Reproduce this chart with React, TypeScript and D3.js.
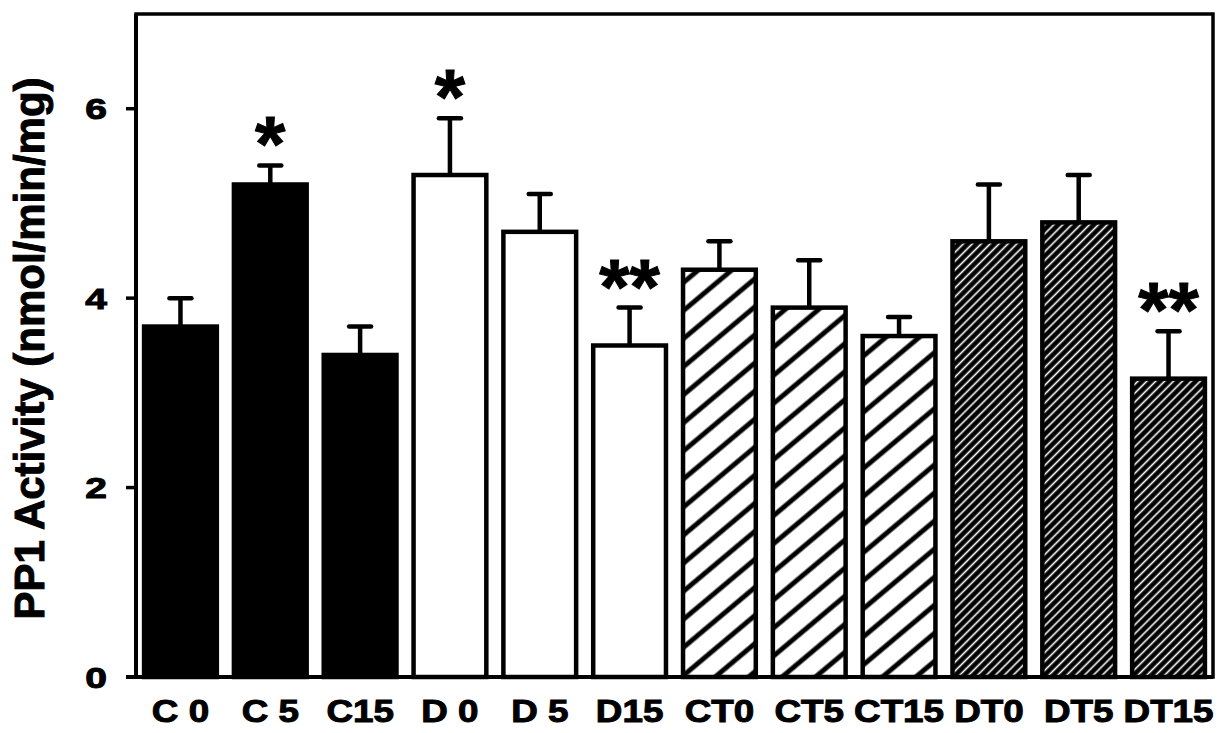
import React from "react";
import * as d3 from "d3";

const categories = ["C 0", "C 5", "C15", "D 0", "D 5", "D15", "CT0", "CT5", "CT15", "DT0", "DT5", "DT15"];
const groups = ["C", "C", "C", "D", "D", "D", "CT", "CT", "CT", "DT", "DT", "DT"];
const means = [3.7, 5.2, 3.4, 5.3, 4.7, 3.5, 4.3, 3.9, 3.6, 4.6, 4.8, 3.15];
const errors = [0.3, 0.2, 0.3, 0.6, 0.4, 0.4, 0.3, 0.5, 0.2, 0.6, 0.5, 0.5];
const significance = ["", "*", "", "*", "", "**", "", "", "", "", "", "**"];
const yTicks = [0, 2, 4, 6];
const yTitle = "PP1 Activity (nmol/min/mg)";

const W = 1222;
const H = 733;
const left = 136;
const right = 1213;
const top = 14;
const bottom = 677;
const FONT = "'Liberation Sans', Arial, Helvetica, sans-serif";

export default function App() {
  const x = d3.scaleBand<string>().domain(categories).range([left, right]).paddingInner(0.19).paddingOuter(0.09);
  const y = d3.scaleLinear().domain([0, 7]).range([bottom, top]);
  const bw = x.bandwidth();

  const fillFor = (g: string) =>
    g === "C" ? "#000" : g === "D" ? "#fff" : g === "CT" ? "url(#hatchWide)" : "url(#hatchDense)";

  const astSize = 78;

  return (
    <svg
      width={W}
      height={H}
      viewBox={`0 0 ${W} ${H}`}
      style={{ position: "absolute", left: 0, top: 0, background: "#fff" }}
      fontFamily={FONT}
    >
      <defs>
        <pattern id="hatchWide" patternUnits="userSpaceOnUse" width={40} height={21.5} patternTransform="rotate(-40)">
          <rect width={40} height={21.5} fill="#fff" />
          <line x1={0} x2={40} y1={10.75} y2={10.75} stroke="#000" strokeWidth={5} />
        </pattern>
        <pattern id="hatchDense" patternUnits="userSpaceOnUse" width={20} height={6.3} patternTransform="rotate(-45)">
          <rect width={20} height={6.3} fill="#000" />
          <line x1={0} x2={20} y1={3.15} y2={3.15} stroke="#fff" strokeWidth={1.6} />
        </pattern>
      </defs>
      <rect width={W} height={H} fill="#fff" />

      {/* bars */}
      {categories.map((c, i) => (
        <rect
          key={c}
          x={x(c)!}
          y={y(means[i])}
          width={bw}
          height={y(0) - y(means[i])}
          fill={fillFor(groups[i])}
          stroke="#000"
          strokeWidth={4.5}
        />
      ))}

      {/* error bars */}
      {categories.map((c, i) => {
        const cx = x(c)! + bw / 2;
        const yt = y(means[i] + errors[i]);
        return (
          <g key={"e" + c} stroke="#000" strokeWidth={4.5}>
            <line x1={cx} x2={cx} y1={y(means[i])} y2={yt} />
            <line x1={cx - 11} x2={cx + 11} y1={yt} y2={yt} strokeLinecap="round" />
          </g>
        );
      })}

      {/* significance marks */}
      {categories.map((c, i) =>
        significance[i] ? (
          <text
            key={"s" + c}
            x={x(c)! + bw / 2}
            y={y(means[i] + errors[i]) - 37 + 0.55 * astSize}
            textAnchor="middle"
            fontSize={astSize}
            fontWeight="bold"
            stroke="#000"
            strokeWidth={1}
          >
            {significance[i]}
          </text>
        ) : null
      )}

      {/* frame */}
      <rect x={left} y={top} width={right - left} height={bottom - top} fill="none" stroke="#000" strokeWidth={3.5} />
      <line x1={left} x2={left} y1={top} y2={bottom} stroke="#000" strokeWidth={4} />
      <line x1={left - 10} x2={right} y1={bottom} y2={bottom} stroke="#000" strokeWidth={4} />

      {/* y ticks */}
      {yTicks.map((t) => (
        <g key={"t" + t}>
          <line x1={left - 10} x2={left} y1={y(t)} y2={y(t)} stroke="#000" strokeWidth={3.5} />
          <text
            transform={`translate(107,${y(t) + 10.5}) scale(1.3,1)`}
            textAnchor="end"
            fontSize={30}
            fontWeight="bold"
            stroke="#000"
            strokeWidth={1}
          >
            {t}
          </text>
        </g>
      ))}

      {/* x labels */}
      {categories.map((c) => (
        <text
          key={"l" + c}
          transform={`translate(${x(c)! + bw / 2},722) scale(1.15,1)`}
          textAnchor="middle"
          fontSize={32}
          fontWeight="bold"
          stroke="#000"
          strokeWidth={1}
        >
          {c}
        </text>
      ))}

      {/* y title */}
      <text
        transform={`translate(44,${(top + bottom) / 2 + 3}) rotate(-90)`}
        textAnchor="middle"
        fontSize={42}
        fontWeight="bold"
        stroke="#000"
        strokeWidth={1}
      >
        {yTitle}
      </text>
    </svg>
  );
}
